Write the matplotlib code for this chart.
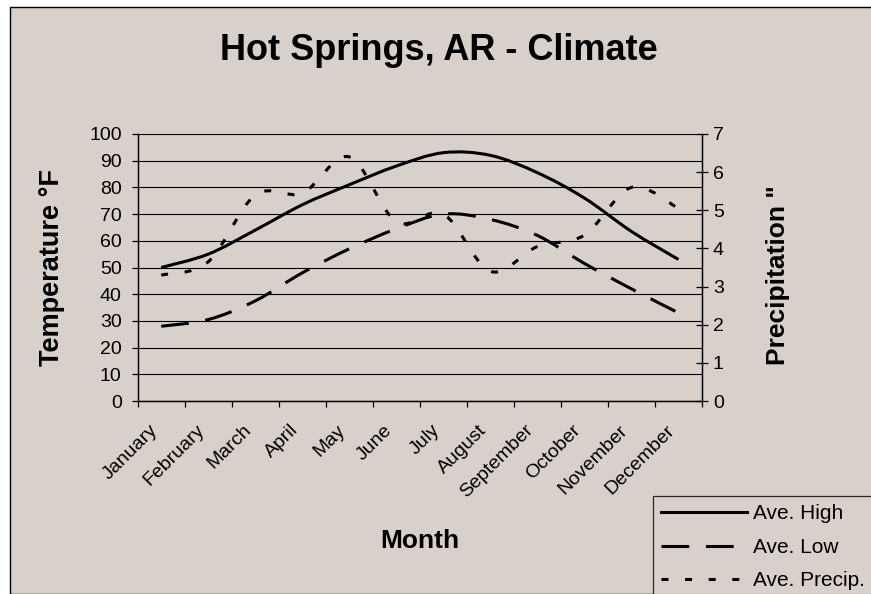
import matplotlib
matplotlib.use("Agg")
import matplotlib.pyplot as plt
from matplotlib.path import Path
from matplotlib.patches import PathPatch, Rectangle
from matplotlib.lines import Line2D
import numpy as np

plt.rcParams['font.family'] = ['Liberation Sans', 'DejaVu Sans']
plt.rcParams['lines.scale_dashes'] = False

months = ["January", "February", "March", "April", "May", "June", "July",
          "August", "September", "October", "November", "December"]
ave_high = [50, 55, 64, 73.5, 81, 88, 93, 92, 85.5, 76, 63.5, 53]
ave_low = [28, 30.5, 37.5, 48, 57, 64.5, 70, 68, 62, 51.5, 42, 33]
ave_precip = [3.3, 3.65, 5.4, 5.45, 6.4, 4.7, 4.9, 3.4, 4.05, 4.35, 5.6, 5.05]

BG = '#D8D0CA'
W, H = 871, 594
fig = plt.figure(figsize=(W / 100, H / 100), dpi=100)
fig.patch.set_facecolor('white')
fig.add_artist(Rectangle((9.5 / W, 0), 2, 1 - 6.5 / H, transform=fig.transFigure,
                         facecolor=BG, edgecolor='black', linewidth=1.0, zorder=-10))


def smooth_path(xs, ys):
    """Excel-style smoothed line: cubic Bezier through the data points."""
    pts = np.column_stack([xs, ys]).astype(float)
    n = len(pts)
    verts = [pts[0]]
    codes = [Path.MOVETO]
    for i in range(n - 1):
        p0 = pts[i - 1] if i > 0 else pts[i]
        p1 = pts[i]
        p2 = pts[i + 1]
        p3 = pts[i + 2] if i + 2 < n else pts[i + 1]
        c1 = p1 + (p2 - p0) / 6.0
        c2 = p2 - (p3 - p1) / 6.0
        verts += [c1, c2, p2]
        codes += [Path.CURVE4] * 3
    return Path(verts, codes)


L, R, T, B = 137.7, 702, 134, 401
ax = fig.add_axes([L / W, 1 - B / H, (R - L) / W, (B - T) / H])
ax.set_facecolor(BG)
ax2 = ax.twinx()

x = np.arange(len(months)) + 0.5
lw = 2.2
solid = 'solid'
long_dash = (0, (20, 12))
short_dash = (0, (5, 12))

ax.add_patch(PathPatch(smooth_path(x, ave_high), fill=False, edgecolor='black',
                       linewidth=lw, linestyle=solid, capstyle='butt', zorder=3))
ax.add_patch(PathPatch(smooth_path(x, ave_low), fill=False, edgecolor='black',
                       linewidth=lw, linestyle=long_dash, capstyle='butt', zorder=3))
ax2.add_patch(PathPatch(smooth_path(x, ave_precip), fill=False, edgecolor='black',
                        linewidth=lw, linestyle=short_dash, capstyle='butt', zorder=3))

ax.set_xlim(0, 12)
ax.set_ylim(0, 100)
ax2.set_ylim(0, 7)
ax.set_yticks(np.arange(0, 101, 10))
ax2.set_yticks(np.arange(0, 8, 1))
ax.set_xticks(np.arange(0, 13, 1))
ax.set_xticklabels([])
ax.yaxis.grid(True, color='black', linewidth=0.8)
ax.set_axisbelow(True)

for a in (ax, ax2):
    a.spines['top'].set_visible(False)
    for s in a.spines.values():
        s.set_linewidth(0.9)
ax.tick_params(axis='y', direction='out', length=4.5, width=0.9, pad=7, labelsize=14)
ax.tick_params(axis='x', direction='out', length=4, width=0.9)
ax2.tick_params(axis='y', direction='inout', length=8.5, width=0.9, pad=3.5, labelsize=14)

for xi, m in zip(x, months):
    ax.text(xi - 0.14, -0.10, m, transform=ax.get_xaxis_transform(), rotation=45,
            ha='right', va='center', rotation_mode='anchor', fontsize=14)

fig.text(439 / W, 1 - 50 / H, "Hot Springs, AR - Climate", ha='center', va='center',
         fontsize=26, fontweight='bold')
fig.text(420 / W, 1 - 541 / H, "Month", ha='center', va='center',
         fontsize=19, fontweight='bold')
fig.text(52 / W, 1 - 268 / H, "Temperature °F", ha='center', va='center',
         rotation=90, fontsize=19.5, fontweight='bold')
fig.text(778 / W, 1 - 275 / H, 'Precipitation "', ha='center', va='center',
         rotation=90, fontsize=19, fontweight='bold')

handles = [Line2D([], [], color='black', lw=lw, linestyle=solid),
           Line2D([], [], color='black', lw=lw, linestyle=long_dash),
           Line2D([], [], color='black', lw=lw, linestyle=short_dash)]
leg = fig.legend(handles, ["Ave. High", "Ave. Low", "Ave. Precip."],
                 loc='upper left', bbox_to_anchor=(653 / W, 1 - 496 / H),
                 fontsize=15, frameon=True, fancybox=False, handlelength=4.1,
                 handletextpad=0.3, labelspacing=0.7, borderpad=0.4,
                 borderaxespad=0)
leg.get_frame().set_edgecolor('black')
leg.get_frame().set_facecolor(BG)
leg.get_frame().set_linewidth(0.9)

fig.savefig("out.png", dpi=100, facecolor=fig.get_facecolor())
